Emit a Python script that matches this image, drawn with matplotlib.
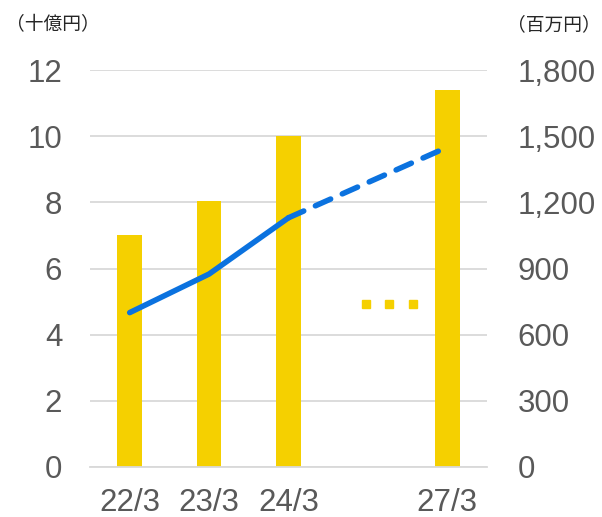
import matplotlib
matplotlib.use("Agg")
import matplotlib.pyplot as plt
import numpy as np

plt.rcParams['font.family'] = ['Liberation Sans', 'Noto Sans CJK JP', 'DejaVu Sans']

# Fiscal-year categories (index 3 is an unlabeled gap slot)
categories = ["22/3", "23/3", "24/3", "", "27/3"]
bar_positions = [0, 1, 2, 4]
bar_values = [7.0, 8.05, 10.0, 11.4]          # 十億円 (left axis)

line_actual_x = [0, 1, 2]
line_actual = [700, 875, 1130]                 # 百万円 (right axis)
line_plan_x = [2, 4]
line_plan = [1130, 1450]

ellipsis_x = [2.97, 3.27, 3.57]
ellipsis_y = [4.93, 4.93, 4.93]

left_ticks = [0, 2, 4, 6, 8, 10, 12]
right_ticks = [0, 300, 600, 900, 1200, 1500, 1800]
right_ticklabels = ["0", "300", "600", "900", "1,200", "1,500", "1,800"]

bar_color = "#F5D000"
line_color = "#0B72DF"
grid_color = "#D9D9D9"
text_color = "#595959"

fig = plt.figure(figsize=(6.02, 5.17), dpi=100)
ax = fig.add_axes([90 / 602, 1 - 467 / 517, (487 - 90) / 602, (467 - 70) / 517])

ax.bar(bar_positions, bar_values, width=0.31, color=bar_color, zorder=2)
ax.plot(ellipsis_x, ellipsis_y, linestyle="none", marker="s", markersize=6,
        color=bar_color, zorder=2)

ax.set_xlim(-0.5, 4.5)
ax.set_ylim(0, 12)
ax.set_yticks(left_ticks)
ax.set_xticks(range(len(categories)))
ax.set_xticklabels(categories)
ax.yaxis.grid(True, color=grid_color, linewidth=1.3, zorder=0)
ax.set_axisbelow(True)
for s in ["top", "right", "left"]:
    ax.spines[s].set_visible(False)
ax.spines["bottom"].set_color(grid_color)
ax.spines["bottom"].set_linewidth(1.3)
ax.tick_params(axis="both", length=0, labelsize=22.5, colors=text_color)
ax.tick_params(axis="y", pad=20)
ax.tick_params(axis="x", pad=15)

ax2 = ax.twinx()
ax2.set_ylim(0, 1800)
ax2.set_yticks(right_ticks)
ax2.set_yticklabels(right_ticklabels)
for s in ax2.spines.values():
    s.set_visible(False)
ax2.tick_params(axis="y", length=0, labelsize=22.5, colors=text_color, pad=22)

ax2.plot(line_actual_x, line_actual, color=line_color, linewidth=4,
         solid_capstyle="round", solid_joinstyle="round", zorder=3)
ax2.plot(line_plan_x, line_plan, color=line_color, linewidth=4,
         linestyle=(0, (3.0, 2.3)), dash_capstyle="round", zorder=3)

fig.text(6 / 602, 1 - 25 / 517, "（十億円）", fontsize=13.5, color="#262626",
         family=["Noto Sans CJK JP", "DejaVu Sans"], va="center", ha="left")
fig.text(601 / 602, 1 - 25 / 517, "（百万円）", fontsize=13.5, color="#262626",
         family=["Noto Sans CJK JP", "DejaVu Sans"], va="center", ha="right")

fig.savefig("out.png", dpi=100)
